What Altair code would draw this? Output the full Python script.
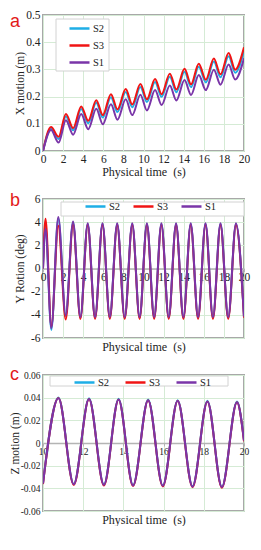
import altair as alt
import pandas as pd

SERIES = ["S2", "S3", "S1"]
COLORS = ["#1eaee6", "#f01414", "#7a35a8"]
FONT = "Liberation Serif"

# ---------- panel a : X motion ----------
time_a = [0, 0.8, 1.55, 2.28, 3.0, 3.8, 4.5, 5.3, 5.95, 6.76, 7.41, 8.23, 8.88, 9.69,
          10.34, 11.15, 11.8, 12.62, 13.27, 14.08, 14.73, 15.5, 16.2, 17.0, 17.66, 18.47, 19.12, 20]
a_s2 = [0, 0.082, 0.044, 0.127, 0.076, 0.154, 0.102, 0.177, 0.123, 0.198, 0.143, 0.217, 0.161, 0.235,
        0.180, 0.254, 0.199, 0.273, 0.216, 0.291, 0.235, 0.310, 0.252, 0.329, 0.271, 0.348, 0.288, 0.368]
a_s3 = [0, 0.088, 0.052, 0.136, 0.084, 0.164, 0.111, 0.187, 0.132, 0.209, 0.153, 0.228, 0.171, 0.246,
        0.190, 0.265, 0.209, 0.284, 0.226, 0.302, 0.245, 0.321, 0.262, 0.340, 0.282, 0.360, 0.299, 0.381]
a_s1 = [0, 0.077, 0.031, 0.113, 0.060, 0.136, 0.080, 0.155, 0.098, 0.172, 0.115, 0.190, 0.132, 0.207,
        0.149, 0.224, 0.169, 0.241, 0.186, 0.261, 0.206, 0.279, 0.224, 0.299, 0.244, 0.318, 0.263, 0.341]
a_xticks = [0, 2, 4, 6, 8, 10, 12, 14, 16, 18, 20]
a_yticks = [0, 0.1, 0.2, 0.3, 0.4, 0.5]

# ---------- panel b : Y rotation ----------
time_b = [0, 0.25, 0.83, 1.52, 2.26, 2.99, 3.72, 4.45, 5.18, 5.92, 6.65, 7.38, 8.13, 8.88, 9.61,
          10.34, 11.06, 11.78, 12.51, 13.24, 13.97, 14.7, 15.43, 16.17, 16.91, 17.66, 18.43, 19.2, 20]
b_s2 = [0, 3.6, -5.3, 4.3, -4.1, 4.0, -4.25, 3.85, -4.25, 3.85, -4.25, 3.85, -4.25, 3.85, -4.25,
        3.85, -4.25, 3.85, -4.25, 3.85, -4.25, 3.85, -4.25, 3.85, -4.25, 3.85, -4.25, 3.85, -4.2]
b_s3 = [0, 4.3, -5.0, 3.7, -4.4, 3.8, -4.35, 3.75, -4.35, 3.75, -4.35, 3.75, -4.35, 3.75, -4.35,
        3.75, -4.35, 3.75, -4.35, 3.75, -4.35, 3.75, -4.35, 3.75, -4.35, 3.75, -4.35, 3.75, -4.25]
b_s1 = [0, 3.4, -5.15, 4.45, -4.05, 4.05, -4.2, 3.9, -4.2, 3.9, -4.2, 3.9, -4.2, 3.9, -4.2,
        3.9, -4.2, 3.9, -4.2, 3.9, -4.2, 3.9, -4.2, 3.9, -4.2, 3.9, -4.2, 3.9, -4.15]
b_xticks = [0, 2, 4, 6, 8, 10, 12, 14, 16, 18, 20]
b_yticks = [-6, -4, -2, 0, 2, 4, 6]

# ---------- panel c : Z motion ----------
time_c = [10, 10.77, 11.53, 12.29, 13.03, 13.76, 14.48, 15.23, 15.96, 16.7, 17.44, 18.18, 18.9, 19.65, 20]
c_s2 = [-0.0355, 0.0401, -0.0362, 0.0394, -0.0367, 0.0390, -0.0372, 0.0384, -0.0376, 0.0378,
        -0.0382, 0.0372, -0.0387, 0.0366, 0.0025]
c_s3 = [-0.0362, 0.0396, -0.0370, 0.0388, -0.0375, 0.0384, -0.0380, 0.0378, -0.0383, 0.0372,
        -0.0390, 0.0366, -0.0395, 0.0360, 0.0015]
c_s1 = [-0.0358, 0.0395, -0.0365, 0.0388, -0.0370, 0.0384, -0.0375, 0.0378, -0.0378, 0.0372,
        -0.0385, 0.0366, -0.0390, 0.0360, 0.0020]
c_xticks = [10, 12, 14, 16, 18, 20]
c_yticks = [-0.06, -0.04, -0.02, 0, 0.02, 0.04, 0.06]


def long_df(t, vals):
    rows = []
    for name, v in zip(SERIES, vals):
        for ti, yi in zip(t, v):
            rows.append({"t": ti, "v": yi, "s": name})
    return pd.DataFrame(rows)


GRID = "#d5ebd5"


def panel(df, xdom, xticks, ydom, yticks, ylabexpr, ytitle, ytitle_pad, letter, letter_xy,
          legend_dir, legend_xy, box, w, h, zero_axis, label_size, col_pad):
    xaxis_kw = dict(values=xticks, title="Physical time\u00a0 (s)", titleFont=FONT, titleFontSize=12,
                    titleFontWeight="normal", titleColor="#222", labelFont=FONT, labelFontSize=label_size,
                    labelColor="#222", labelFlush=False, labelOverlap=False, grid=True, gridColor=GRID,
                    gridWidth=1)
    if zero_axis:
        xaxis_kw.update(domain=True, domainColor="#b4b4b4", domainWidth=1.5, ticks=True, tickSize=3,
                        tickColor="#b4b4b4", offset=-h / 2, titleY=h / 2 + 3, labelPadding=0)
    else:
        xaxis_kw.update(domain=False, ticks=False, labelPadding=2, titlePadding=2)

    lines = alt.Chart(df).mark_line(strokeWidth=2, interpolate="monotone", clip=True).encode(
        x=alt.X("t:Q", scale=alt.Scale(domain=xdom, nice=False, zero=False), axis=alt.Axis(**xaxis_kw)),
        y=alt.Y("v:Q", scale=alt.Scale(domain=ydom, nice=False, zero=False),
                axis=alt.Axis(values=yticks, labelExpr=ylabexpr, title=ytitle, titlePadding=ytitle_pad,
                              titleFont=FONT, titleFontSize=11.5, titleFontWeight="normal", titleColor="#222",
                              labelFont=FONT, labelFontSize=label_size, labelColor="#222", labelPadding=3,
                              grid=True, gridColor=GRID, domain=False, ticks=False)),
        color=alt.Color("s:N", scale=alt.Scale(domain=SERIES, range=COLORS),
                        legend=alt.Legend(orient="none", legendX=legend_xy[0], legendY=legend_xy[1],
                                          direction=legend_dir, title=None, symbolType="stroke",
                                          symbolSize=400, symbolStrokeWidth=2.5, labelFont=FONT,
                                          labelFontSize=10.5, labelColor="#222", padding=0, rowPadding=-9,
                                          columnPadding=col_pad, labelOffset=2)),
    )
    one = alt.Data(values=[{"k": 1}])
    rect = alt.Chart(one).mark_rect(fill="white", stroke="#d2d2d2", strokeWidth=1).encode(
        x=alt.value(box[0]), x2=alt.value(box[2]), y=alt.value(box[1]), y2=alt.value(box[3]))
    txt = alt.Chart(one).mark_text(text=letter, font="Liberation Sans", fontSize=18, color="#e31a1a",
                                   align="left", baseline="middle").encode(
        x=alt.value(letter_xy[0]), y=alt.value(letter_xy[1]))
    return alt.layer(rect, lines, txt).properties(width=w, height=h)


pa = panel(long_df(time_a, [a_s2, a_s3, a_s1]), [0, 20], a_xticks, [0, 0.5], a_yticks,
           "datum.value == 0 ? '0' : format(datum.value, '.1f')", "X motion (m)", 0,
           "a", (-33, 7), "vertical", (25, 2), (13, 4, 66, 56), 201, 136, False, 11.5, 10)
pb = panel(long_df(time_b, [b_s2, b_s3, b_s1]), [0, 20], b_xticks, [-6, 6], b_yticks,
           "datum.value < 0 ? '-' + (-datum.value) : '' + datum.value", "Y Rotion (deg)", 5,
           "b", (-33, 2), "horizontal", (41, -4), (18, 3, 201, 17), 201, 139, True, 11.5, 7)
pc = panel(long_df(time_c, [c_s2, c_s3, c_s1]), [10, 20], c_xticks, [-0.06, 0.06], c_yticks,
           "datum.value == 0 ? '0' : (datum.value < 0 ? '-' : '') + format(abs(datum.value), '.2f')",
           "Z motion (m)", 0, "c", (-33, 0), "horizontal", (30, -4), (7, 1, 185, 11), 201, 136, True, 9.5, 10)

chart = alt.concat(pa, pb, pc, columns=1, spacing=12).resolve_scale(
    color="independent"
).resolve_legend(color="independent").properties(
    padding={"left": 0, "top": 0, "right": 0, "bottom": 0}
).configure_view(stroke="#a8a8a8", strokeWidth=2)

chart.save("out.html", embed_options={"renderer": "svg", "actions": False})
